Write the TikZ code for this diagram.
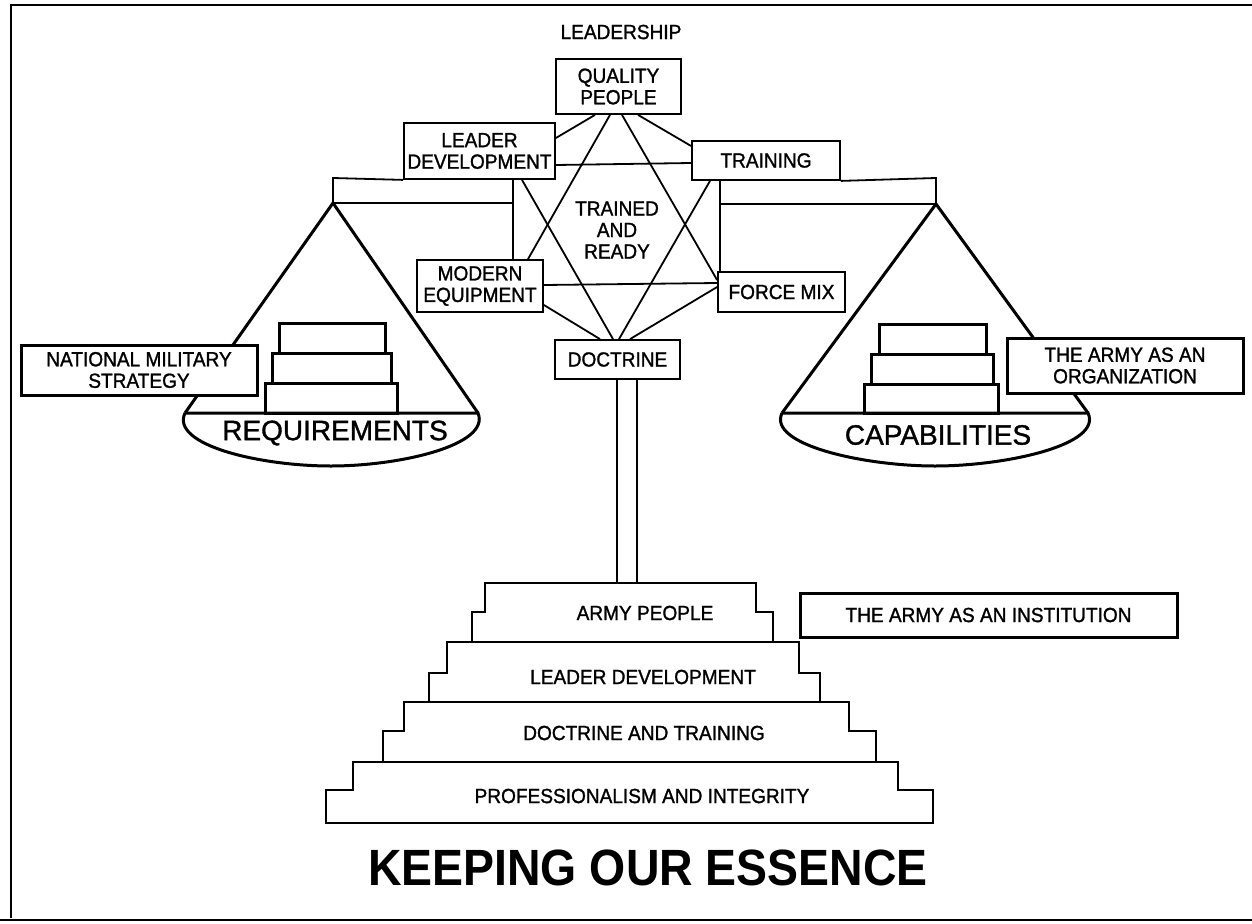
\documentclass[tikz,border=0pt]{standalone}
\usepackage{fontspec}
\setmainfont{Liberation Sans}
\newfontfamily\labfont[FakeStretch=0.93,FakeBold=1.3]{Liberation Sans}
\newfontfamily\panfont[FakeBold=1.2]{Liberation Sans}
\newfontfamily\titlefont[FakeStretch=0.91]{Liberation Sans}
\begin{document}
\begin{tikzpicture}[x=1pt,y=-1pt,
  box/.style={draw, line width=1.8pt, fill=white, inner sep=0pt, align=center,
    font=\labfont\fontsize{20.5}{21.5}\selectfont},
  heavybox/.style={box, line width=3pt},
  link/.style={line width=1.8pt},
  heavy/.style={line width=3pt, line join=miter},
  lab/.style={inner sep=0pt, align=center, font=\labfont\fontsize{20.5}{21.5}\selectfont},
  panlab/.style={inner sep=0pt, font=\panfont\fontsize{28}{30}\selectfont},
  tier/.style={line width=2.4pt, line join=miter}
]
\useasboundingbox (0,0) rectangle (1252,923);
% frame
\draw[line width=2.5pt] (11,918) -- (11,5) -- (1252,5);
\draw[line width=2.5pt] (0,920) -- (1252,920);

% named points
\coordinate (lapex) at (333,203);
\coordinate (ltop) at (333,178);
\coordinate (linner) at (513,203);
\coordinate (rapex) at (936,204);
\coordinate (rtop) at (936,178);
\coordinate (rinner) at (720,204);
\coordinate (lpl) at (185,413);
\coordinate (lpr) at (478,413);
\coordinate (rpl) at (782,413);
\coordinate (rpr) at (1088,413);
\coordinate (aptop) at (627,583);

% pans
\draw[heavy] (lpl) -- (lapex) -- (lpr);
\draw[heavy] (rpl) -- (rapex) -- (rpr);
\draw[heavy] (lpl) -- (lpr) .. controls (491,445) and (400,466) .. (331,466)
   .. controls (260,466) and (170,445) .. (lpl);
\draw[heavy] (rpl) -- (rpr) .. controls (1103,445) and (1005,466) .. (935,466)
   .. controls (865,466) and (767,445) .. (rpl);
\node[panlab] (req) at (335,433) {REQUIREMENTS};
\node[panlab] (cap) at (938,435) {CAPABILITIES};

% stacked weights
\draw[heavy] (279,353) rectangle (385,323);
\draw[heavy] (272,383) rectangle (391,353);
\draw[heavy] (265,413) rectangle (397,383);
\draw[heavy] (879,354) rectangle (986,324);
\draw[heavy] (871,384) rectangle (993,354);
\draw[heavy] (864,413) rectangle (998,384);

% side boxes
\node[heavybox, minimum width=236pt, minimum height=50pt] (nms) at (139,370) {NATIONAL MILITARY\\STRATEGY};
\node[heavybox, minimum width=236pt, minimum height=55pt] (org) at (1125,365.5) {THE ARMY AS AN\\ORGANIZATION};
\node[heavybox, minimum width=377pt, minimum height=44pt] (inst) at (988.5,615) {THE ARMY AS AN INSTITUTION};

% top label
\node[lab] (lead) at (621,32) {LEADERSHIP};

% hexagram boxes
\node[box, minimum width=125pt, minimum height=55pt] (qp) at (618.5,86.5) {QUALITY\\PEOPLE};
\node[box, minimum width=151pt, minimum height=56pt] (ld) at (479.5,151) {LEADER\\DEVELOPMENT};
\node[box, minimum width=148pt, minimum height=39pt] (tr) at (766,160.5) {TRAINING};
\node[box, minimum width=126pt, minimum height=52pt] (me) at (480,286) {MODERN\\EQUIPMENT};
\node[box, minimum width=127pt, minimum height=40pt] (fm) at (781.5,292) {FORCE MIX};
\node[box, minimum width=125pt, minimum height=39pt] (doc) at (617.5,359.5) {DOCTRINE};
\node[lab] (tar) at (617,230) {TRAINED\\AND\\READY};

% beam
\draw[link] (ld.south west) -- (ltop) -- (lapex) -- (linner);
\draw[link] (tr.south east) -- (rtop) -- (rapex) -- (rinner);

% hexagram links
\draw[link] ([xshift=-23.5pt]qp.south) -- ([yshift=13pt]ld.east);
\draw[link] ([xshift=19.5pt]qp.south) -- ([yshift=14.5pt]tr.west);
\draw[link] ([xshift=-8.5pt]qp.south) -- ([xshift=48pt]me.north);
\draw[link] ([xshift=3.5pt]qp.south) -- ([yshift=12pt]fm.west);
\draw[link] ([yshift=-14pt]ld.east) -- ([yshift=-2.5pt]tr.west);
\draw[link] ([xshift=42.5pt]ld.south) -- ([xshift=-4.5pt]doc.north);
\draw[link] ([xshift=-56pt]tr.south) -- ([xshift=1.5pt]doc.north);
\draw[link] ([yshift=1pt]me.east) -- ([yshift=9pt]fm.west);
\draw[link] ([yshift=-19pt]me.east) -- ([xshift=-17.5pt]doc.north);
\draw[link] ([yshift=5pt]fm.west) -- ([xshift=12.5pt]doc.north);
\draw[link] ([xshift=33.5pt]ld.south) -- ([xshift=33pt]me.north);
\draw[link] ([xshift=-46pt]tr.south) -- ([xshift=-61.5pt]fm.north);

% column
\draw[link] ([xshift=-0.5pt]doc.south) -- ([xshift=-0.5pt]doc.south |- aptop);
\draw[link] ([xshift=19.5pt]doc.south) -- ([xshift=19.5pt]doc.south |- aptop);

% pedestal
\draw[tier] (485,583) -- (756,583) -- (756,612) -- (773,612) -- (773,642) -- (472,642) -- (472,612) -- (485,612) -- cycle;
\draw[tier] (447,642) -- (799,642) -- (799,673) -- (820,673) -- (820,702) -- (429,702) -- (429,673) -- (447,673) -- cycle;
\draw[tier] (404,702) -- (849,702) -- (849,731) -- (876,731) -- (876,762) -- (383,762) -- (383,731) -- (404,731) -- cycle;
\draw[tier] (353,762) -- (898,762) -- (898,790) -- (933,790) -- (933,823) -- (326,823) -- (326,790) -- (353,790) -- cycle;
\node[lab] (ap) at (645,613) {ARMY PEOPLE};
\node[lab] (ldv) at (643,677) {LEADER DEVELOPMENT};
\node[lab] (dt) at (644,733) {DOCTRINE AND TRAINING};
\node[lab] (pi) at (642,796) {PROFESSIONALISM AND INTEGRITY};

% title
\node[inner sep=0pt, font=\titlefont\bfseries\fontsize{51}{55}\selectfont] (title) at (648,868) {KEEPING OUR ESSENCE};
\end{tikzpicture}
\end{document}
